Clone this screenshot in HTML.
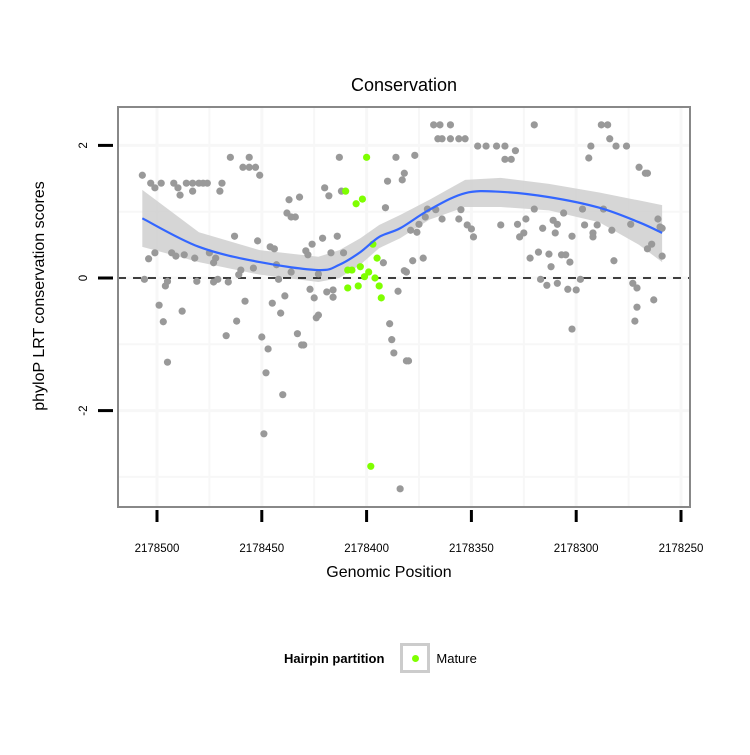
<!DOCTYPE html>
<html><head><meta charset="utf-8"><style>
body{margin:0;background:#fff;font-family:"Liberation Sans",sans-serif}
</style></head><body>
<svg id="c" width="750" height="750" xmlns="http://www.w3.org/2000/svg"></svg>
<script>
const grayPos=[2178507,2178503,2178501,2178498,2178492,2178490,2178489,2178486,2178483,2178480,2178478,2178476,2178483,2178470,2178469,2178465,2178456,2178459,2178456,2178453,2178451,
2178463,2178452,2178446,2178444,2178501,2178504,2178493,2178491,2178487,2178482,2178475,2178472,2178473,2178443,2178454,2178460,2178461,2178506,2178495,2178496,2178481,2178473,2178471,2178466,2178442,2178436,2178426,2178421,2178414,2178429,2178428,2178417,2178411,2178423,2178427,2178425,2178419,2178416,2178416,2178439,2178445,2178458,2178499,2178488,2178497,2178441,2178462,2178423,2178424,2178467,2178450,2178447,2178433,2178430,2178431,2178495,2178448,2178440,2178449,2178384,2178420,2178418,2178413,2178412,2178437,2178432,2178438,2178434,2178436,2178386,2178390,2178383,2178382,2178391,2178392,2178385,2178382,2178389,2178388,2178387,2178381,
2178368,2178365,2178360,2178366,2178364,2178360,2178356,2178353,2178347,2178343,2178338,2178334,2178329,2178334,2178331,2178377,2178320,2178288,2178285,2178284,2178281,2178276,2178293,2178294,2178270,2178267,2178266,2178371,2178367,2178372,2178375,2178364,2178355,2178356,2178352,2178350,2178349,2178379,2178376,2178336,2178328,2178324,2178320,2178325,2178327,2178316,2178310,2178311,2178309,2178306,2178302,2178297,2178296,2178290,2178292,2178292,2178287,2178283,2178274,2178261,2178260,2178259,2178264,2178266,2178259,2178282,2178378,2178373,2178381,2178322,2178318,2178313,2178312,2178307,2178305,2178303,2178317,2178314,2178309,2178304,2178300,2178298,2178273,2178271,2178271,2178272,2178263,2178302,2178380];
const grayScore=[1.55,1.43,1.36,1.43,1.43,1.36,1.25,1.43,1.43,1.43,1.43,1.43,1.31,1.31,1.43,1.82,1.82,1.67,1.67,1.67,1.55,
0.63,0.56,0.47,0.44,0.38,0.29,0.38,0.33,0.35,0.30,0.38,0.30,0.23,0.20,0.15,0.12,0.05,-0.02,-0.05,-0.12,-0.05,-0.06,-0.02,-0.06,-0.02,0.09,0.51,0.60,0.63,0.41,0.35,0.38,0.38,0.06,-0.17,-0.30,-0.21,-0.18,-0.29,-0.27,-0.38,-0.35,-0.41,-0.50,-0.66,-0.53,-0.65,-0.56,-0.60,-0.87,-0.89,-1.07,-0.84,-1.01,-1.01,-1.27,-1.43,-1.76,-2.35,-3.18,1.36,1.24,1.82,1.31,1.18,1.22,0.98,0.92,0.92,1.82,1.46,1.48,1.58,1.06,0.23,-0.20,0.11,-0.69,-0.93,-1.13,
-1.25,2.31,2.31,2.31,2.10,2.10,2.10,2.10,2.10,1.99,1.99,1.99,1.99,1.92,1.79,1.79,1.85,2.31,2.31,2.31,2.10,1.99,1.99,1.99,1.81,1.67,1.58,1.58,1.04,1.03,0.92,0.81,0.89,1.03,0.89,0.80,0.74,0.62,0.72,0.69,0.80,0.81,0.89,1.04,0.68,0.62,0.75,0.68,0.87,0.81,0.98,0.63,1.04,0.80,0.80,0.68,0.62,1.04,0.72,0.81,0.89,0.77,0.75,0.51,0.44,0.33,0.26,0.26,0.30,0.09,0.30,0.39,0.36,0.17,0.35,0.35,0.24,-0.02,-0.11,-0.08,-0.17,-0.18,-0.02,-0.08,-0.15,-0.44,-0.65,-0.33,-0.77,-1.25];
const greenPos=[2178410,2178400,2178405,2178402,2178397,2178395,2178409,2178407,2178403,2178399,2178401,2178396,2178409,2178404,2178394,2178393,2178398];
const greenScore=[1.31,1.82,1.12,1.19,0.51,0.30,0.12,0.12,0.17,0.09,0.02,0.00,-0.15,-0.12,-0.12,-0.30,-2.84];
const fitPos=[2178507,2178480,2178451,2178423,2178413,2178403,2178394,2178384,2178370,2178353,2178336,2178313,2178289,2178270,2178259];
const fitY=[0.90,0.47,0.24,0.12,0.20,0.39,0.62,0.75,1.03,1.28,1.30,1.22,1.06,0.84,0.68];
const fitLo=[0.47,0.24,0.05,-0.06,0.00,0.20,0.45,0.60,0.88,1.07,1.07,1.02,0.84,0.50,0.24];
const fitHi=[1.33,0.69,0.42,0.32,0.42,0.60,0.80,0.95,1.18,1.48,1.51,1.42,1.29,1.17,1.10];
const xTicks=[2178500,2178450,2178400,2178350,2178300,2178250];
const yTicks=[2,0,-2];

const NS="http://www.w3.org/2000/svg", svg=document.getElementById('c');
const L=118,R=690,T=107,B=507;
const X=v=>157+(2178500-v)*2.096;
const Y=v=>278-v*66.3;
function mk(t,a,p){const e=document.createElementNS(NS,t);for(const k in a)e.setAttribute(k,a[k]);(p||svg).appendChild(e);return e;}
const panel=mk('rect',{x:L,y:T,width:R-L,height:B-T,fill:'#fff'});


// grid
[1,-1,-3,2,0,-2].forEach(v=>{const g=mk('line',{x1:L+1,x2:R-1,y1:Y(v),y2:Y(v),stroke:'#f7f7f7','stroke-width':Number.isInteger(v/2)?3:2});

});
for(let v=2178500;v>=2178250;v-=25){const g=mk('line',{x1:X(v),x2:X(v),y1:T+1,y2:B-1,stroke:'#f7f7f7','stroke-width':v%50===0?3:2});

}
// band
let d='M'+fitPos.map((p,i)=>X(p)+','+Y(fitHi[i])).join('L');
for(let i=fitPos.length-1;i>=0;i--)d+='L'+X(fitPos[i])+','+Y(fitLo[i]);
const band=mk('path',{d:d+'Z',fill:'#cfcfcf','fill-opacity':0.85});


const zl=mk('line',{x1:L,x2:R,y1:Y(0),y2:Y(0),stroke:'#000','stroke-width':1.6,'stroke-dasharray':'8,7'});


grayPos.forEach((p,i)=>{const c=mk('circle',{cx:X(p),cy:Y(grayScore[i]),r:3.6,fill:'#999'});

});
greenPos.forEach((p,i)=>{const c=mk('circle',{cx:X(p),cy:Y(greenScore[i]),r:3.6,fill:'#7fff00'});

});
// smooth line
function curve(xs,ys){let s='M'+xs[0]+','+ys[0];for(let i=0;i<xs.length-1;i++){const x0=xs[Math.max(i-1,0)],y0=ys[Math.max(i-1,0)],x3=xs[Math.min(i+2,xs.length-1)],y3=ys[Math.min(i+2,xs.length-1)];
s+=`C${xs[i]+(xs[i+1]-x0)/6},${ys[i]+(ys[i+1]-y0)/6} ${xs[i+1]-(x3-xs[i])/6},${ys[i+1]-(y3-ys[i])/6} ${xs[i+1]},${ys[i+1]}`;}return s;}
const fl=mk('path',{d:curve(fitPos.map(X),fitY.map(Y)),fill:'none',stroke:'#3366ff','stroke-width':2.2});


const bd=mk('rect',{x:L,y:T,width:R-L,height:B-T,fill:'none',stroke:'#888','stroke-width':2});


xTicks.forEach(v=>{const t=mk('line',{x1:X(v),x2:X(v),y1:510,y2:522,stroke:'#000','stroke-width':3});


const l=mk('text',{x:X(v),y:552,'text-anchor':'middle','font-size':11.5,fill:'#000'});l.textContent=v;

});
yTicks.forEach(v=>{const t=mk('line',{x1:98,x2:113,y1:Y(v),y2:Y(v),stroke:'#000','stroke-width':3});


const l=mk('text',{x:0,y:0,transform:`translate(87,${Y(v)}) rotate(-90)`,'text-anchor':'middle','font-size':11.5,fill:'#000'});l.textContent=v;

});
</script>
<div style="position:absolute;left:0;width:808px;top:75px;text-align:center;font-size:18px">Conservation</div>
<div style="position:absolute;left:0;width:778px;top:564px;text-align:center;font-size:16px">Genomic Position</div>
<div style="position:absolute;left:40px;top:296px;width:0;height:0"><div style="position:absolute;transform:translate(-50%,-50%) rotate(-90deg);white-space:nowrap;font-size:16px;">phyloP LRT conservation scores</div></div>
<div style="position:absolute;left:284px;top:640px;height:36px;display:flex;align-items:center;font-size:13px">
<span style="font-weight:bold">Hairpin partition</span>
<span style="margin-left:16px;width:30px;height:30px;box-sizing:border-box;border:3px solid #ccc;display:inline-flex;align-items:center;justify-content:center"><span style="width:7px;height:7px;border-radius:50%;background:#7fff00"></span></span>
<span style="margin-left:6px">Mature</span>
</div>
</body></html>
